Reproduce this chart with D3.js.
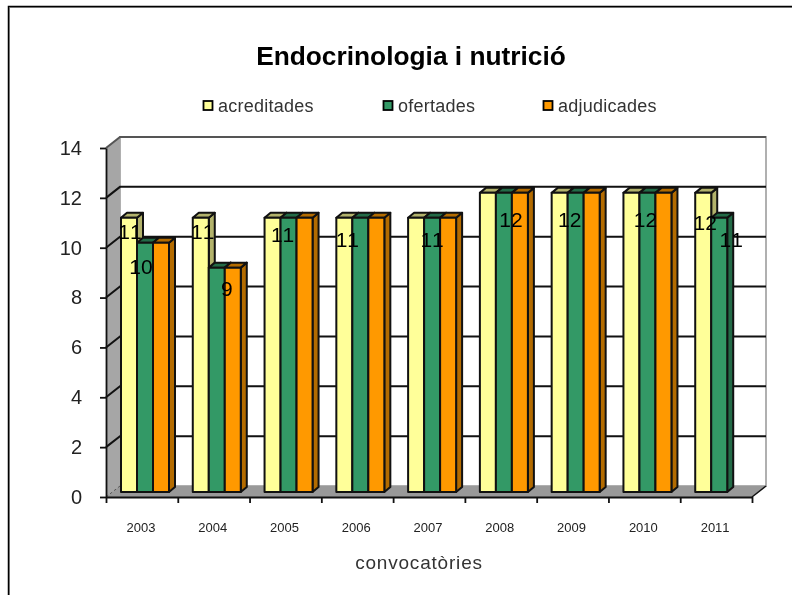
<!DOCTYPE html>
<html>
<head>
<meta charset="utf-8">
<script src="https://cdn.jsdelivr.net/npm/d3@7"></script>
<style>
	html, body { margin: 0; padding: 0; background: #fff; }
	svg { display: block; font-family: "Liberation Sans", Arial, sans-serif; font-kerning: none; filter: blur(0.35px); }
</style>
</head>
<body>
<svg width="792" height="595"></svg>
<script>
const years = ["2003", "2004", "2005", "2006", "2007", "2008", "2009", "2010", "2011"];
const seriesNames = ["acreditades", "ofertades", "adjudicades"];
const acreditades = [11, 11, 11, 11, 11, 12, 12, 12, 12];
const ofertades = [10, 9, 11, 11, 11, 12, 12, 12, 11];
const adjudicades = [10, 9, 11, 11, 11, 12, 12, 12, null];
const yTicks = [0, 2, 4, 6, 8, 10, 12, 14];

// which bar each printed value label belongs to
const labelYears = ["2003", "2003", "2004", "2004", "2005", "2006", "2007", "2008", "2009", "2010", "2011", "2011"];
const labelSeries = [0, 1, 0, 2, 1, 0, 1, 1, 1, 1, 0, 1];

// the labels sit oddly in the original, so each one gets a nudge from its bar top
const labelNudge = [[1, 14], [-4, 24], [2, 14], [-6, 21], [-6, 17], [3, 22], [0, 22], [7, 27], [-6, 27], [-2, 27], [2, 30], [12, 22]];

const seriesValues = [acreditades, ofertades, adjudicades];
const colors = ["#ffff99", "#339966", "#ff9900"];
const sideColors = ["#b2b26b", "#236b47", "#b36b00"];
const legendX = [203, 383, 543];

const svg = d3.select("svg");

const x = d3.scaleBand().domain(years).range([106, 752]);
const edges = d3.scaleLinear().domain([0, years.length]).range([106, 752]);
const inner = d3.scaleBand().domain(d3.range(3)).range([15, 63]);
const y = d3.scaleLinear().domain([0, 14]).range([497, 148]);

// depth of the walls and of the bars
const wallDx = 14, wallDy = -11;
const barDy = -5, sideDx = 6, sideDy = -5;

// page frame
svg.append("path").attr("d", "M792,6.5H8.5V595").attr("fill", "none").attr("stroke", "#999").attr("stroke-width", 1).attr("transform", "translate(1,1)");
svg.append("path").attr("d", "M792,6.5H8.5V595").attr("fill", "none").attr("stroke", "#000").attr("stroke-width", 1.5);

svg.append("text")
	.attr("x", 411)
	.attr("y", 64.5)
	.attr("text-anchor", "middle")
	.attr("font-size", 26.3)
	.attr("font-weight", "bold")
	.text("Endocrinologia i nutrició");

// legend
seriesNames.forEach((name, i) => {
	svg.append("rect")
		.attr("x", legendX[i] + 0.5)
		.attr("y", 101)
		.attr("width", 9)
		.attr("height", 9)
		.attr("fill", colors[i])
		.attr("stroke", "#000")
		.attr("stroke-width", 1.8);
	svg.append("text")
		.attr("x", legendX[i] + 15)
		.attr("y", 112)
		.attr("font-size", 18)
		.attr("letter-spacing", 0.25)
		.attr("fill", "#333")
		.text(name);
});

// back wall, side wall and floor
const x0 = x.range()[0], x1 = x.range()[1];
svg.append("path")
	.attr("d", `M${x0 + wallDx},${y(14) + wallDy}H${x1 + wallDx}V${y(0) + wallDy}H${x0 + wallDx}Z`)
	.attr("fill", "#fff")
	.attr("stroke", "#b0b0b0")
	.attr("stroke-width", 2);
svg.append("path")
	.attr("d", `M${x0},${y(14)}L${x0 + wallDx},${y(14) + wallDy}V${y(0) + wallDy}L${x0},${y(0)}Z`)
	.attr("fill", "#a6a6a6");
svg.append("path")
	.attr("d", `M${x0},${y(0)}L${x0 + wallDx},${y(0) + wallDy}H${x1 + wallDx}L${x1},${y(0)}Z`)
	.attr("fill", "#999");
svg.append("line")
	.attr("x1", x1).attr("y1", y(0))
	.attr("x2", x1 + wallDx).attr("y2", y(0) + wallDy)
	.attr("stroke", "#111")
	.attr("stroke-width", 1.5);

// gridlines run along the back wall and fold down the side wall
svg.append("g")
	.selectAll("path")
	.data(yTicks.filter((d) => d > 0))
	.join("path")
	.attr("d", (d) => `M${x0},${y(d)}L${x0 + wallDx},${y(d) + wallDy}H${x1 + wallDx}`)
	.attr("fill", "none")
	.attr("stroke", (d) => (d === 14 ? "#555" : "#111"))
	.attr("stroke-width", 2);
svg.append("line")
	.attr("x1", x0).attr("y1", y(0))
	.attr("x2", x0 + wallDx).attr("y2", y(0) + wallDy)
	.attr("stroke", "#555")
	.attr("stroke-width", 1)
	.attr("stroke-dasharray", "3 2");

// bars
const bars = [];
years.forEach((year, i) => {
	seriesValues.forEach((values, s) => {
		if (values[i] !== null) bars.push({ year: year, s: s, value: values[i] });
	});
});

const barLeft = (d) => x(d.year) + inner(d.s);
const barTop = (d) => y(d.value) + barDy;
const barBottom = y(0) + barDy;
const w = inner.bandwidth();

const bar = svg.append("g")
	.attr("stroke", "#111")
	.attr("stroke-width", 2)
	.attr("stroke-linejoin", "round")
	.selectAll("g")
	.data(bars)
	.join("g");

bar.append("path")
	.attr("fill", (d) => sideColors[d.s])
	.attr("d", (d) => `M${barLeft(d) + w},${barTop(d)}l${sideDx},${sideDy}V${barBottom + sideDy}l${-sideDx},${-sideDy}Z`);
bar.append("path")
	.attr("fill", (d) => sideColors[d.s])
	.attr("d", (d) => `M${barLeft(d)},${barTop(d)}l${sideDx},${sideDy}h${w}l${-sideDx},${-sideDy}Z`);
bar.append("rect")
	.attr("fill", (d) => colors[d.s])
	.attr("x", barLeft)
	.attr("y", barTop)
	.attr("width", w)
	.attr("height", (d) => barBottom - barTop(d));

// axes
const yAxis = svg.append("g")
	.attr("transform", `translate(${x0},0)`)
	.call(d3.axisLeft(y).tickValues(yTicks).tickSize(6).tickPadding(18).tickSizeOuter(0));
yAxis.selectAll("text").attr("font-size", 20).attr("font-family", "inherit").attr("fill", "#222");

const edgeAxis = svg.append("g")
	.attr("transform", `translate(0,${y(0)})`)
	.call(d3.axisBottom(edges).tickValues(d3.range(years.length + 1)).tickFormat("").tickSize(6).tickSizeOuter(0));

const xAxis = svg.append("g")
	.attr("transform", `translate(-1,${y(0)})`)
	.call(d3.axisBottom(x).tickSize(0).tickPadding(26));
xAxis.select(".domain").remove();
xAxis.selectAll("text").attr("font-size", 13).attr("font-family", "inherit").attr("fill", "#222");

yAxis.selectAll("path,line").attr("stroke", "#111").attr("stroke-width", 1.8);
edgeAxis.selectAll("path,line").attr("stroke", "#111").attr("stroke-width", 1.8);

svg.append("text")
	.attr("x", 419)
	.attr("y", 569)
	.attr("text-anchor", "middle")
	.attr("font-size", 19)
	.attr("letter-spacing", 0.8)
	.attr("fill", "#333")
	.text("convocatòries");

// value labels
svg.append("g")
	.selectAll("text")
	.data(labelYears)
	.join("text")
	.attr("x", (d, i) => x(d) + inner(labelSeries[i]) + w / 2 + labelNudge[i][0])
	.attr("y", (d, i) => y(seriesValues[labelSeries[i]][years.indexOf(d)]) + barDy + labelNudge[i][1])
	.attr("dy", "0.36em")
	.attr("text-anchor", "middle")
	.attr("font-size", 21)
	.attr("fill", "#000")
	.text((d, i) => seriesValues[labelSeries[i]][years.indexOf(d)]);
</script>
</body>
</html>
